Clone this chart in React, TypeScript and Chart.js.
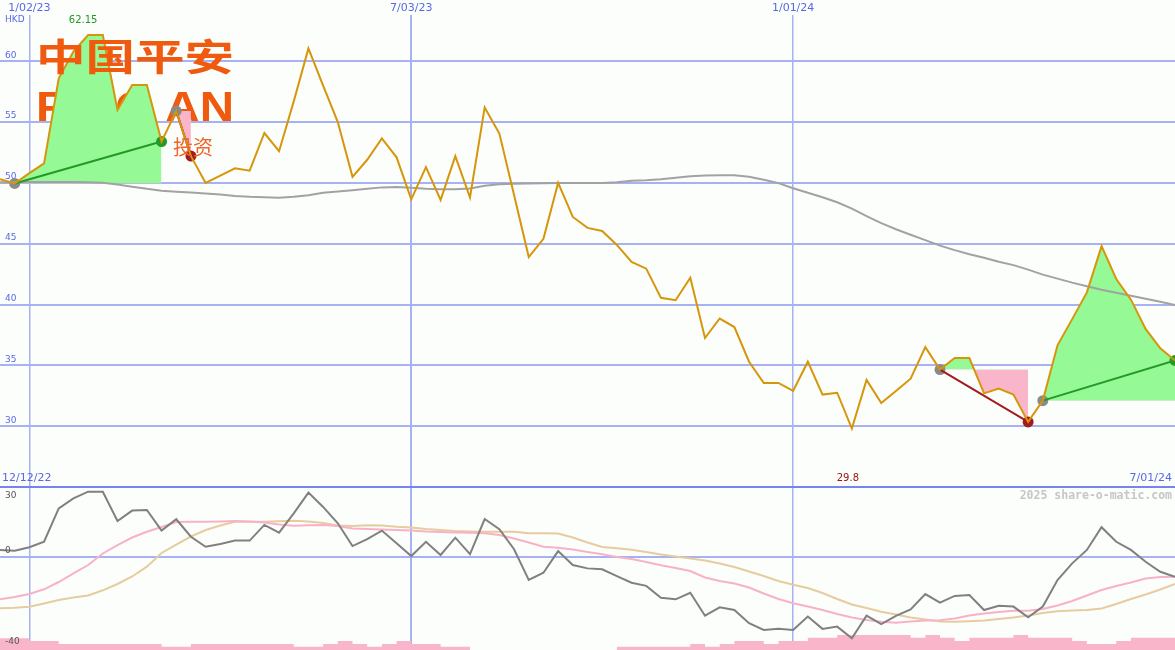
import React, { useEffect, useRef } from 'react';
import Chart from 'chart.js/auto';

// ---------- data ----------
const weeks = [
  '12/19/22', '12/26/22', '1/02/23', '1/09/23', '1/16/23', '1/23/23', '1/30/23', '2/06/23', '2/13/23', '2/20/23',
  '2/27/23', '3/06/23', '3/13/23', '3/20/23', '3/27/23', '4/03/23', '4/10/23', '4/17/23', '4/24/23', '5/01/23',
  '5/08/23', '5/15/23', '5/22/23', '5/29/23', '6/05/23', '6/12/23', '6/19/23', '6/26/23', '7/03/23', '7/10/23',
  '7/17/23', '7/24/23', '7/31/23', '8/07/23', '8/14/23', '8/21/23', '8/28/23', '9/04/23', '9/11/23', '9/18/23',
  '9/25/23', '10/02/23', '10/09/23', '10/16/23', '10/23/23', '10/30/23', '11/06/23', '11/13/23', '11/20/23', '11/27/23',
  '12/04/23', '12/11/23', '12/18/23', '12/25/23', '1/01/24', '1/08/24', '1/15/24', '1/22/24', '1/29/24', '2/05/24',
  '2/12/24', '2/19/24', '2/26/24', '3/04/24', '3/11/24', '3/18/24', '3/25/24', '4/01/24', '4/08/24', '4/15/24',
  '4/22/24', '4/29/24', '5/06/24', '5/13/24', '5/20/24', '5/27/24', '6/03/24', '6/10/24', '6/17/24', '6/24/24',
  '7/01/24',
];
const gridDates = ['1/02/23', '7/03/23', '1/01/24'];
const startLabel = '12/12/22';
const endLabel = '7/01/24';
const currency = 'HKD';
const watermark = '2025 share-o-matic.com';
const lowerTickLabels = [30, 0, -40];

const price = [
  50.3, 49.95, 50.8, 51.6, 58.6, 60.8, 62.15, 62.15, 56.0, 58.05,
  58.05, 53.4, 55.9, 52.2, 50.0, 50.6, 51.2, 51.0, 54.1, 52.6,
  56.7, 61.05, 58.0, 55.0, 50.5, 51.9, 53.65, 52.1, 48.65, 51.3,
  48.6, 52.2, 48.8, 56.2, 54.05, 49.0, 43.9, 45.4, 50.0, 47.2,
  46.3, 46.05, 44.9, 43.5, 42.95, 40.55, 40.35, 42.2, 37.25, 38.85,
  38.15, 35.3, 33.55, 33.55, 32.9, 35.3, 32.6, 32.75, 29.8, 33.8,
  31.9, 32.9, 33.9, 36.5, 34.65, 35.6, 35.6, 32.7, 33.1, 32.6,
  30.35, 32.1, 36.65, 38.8, 41.0, 44.8, 42.1, 40.4, 38.0, 36.4, 35.4,
];
const priceMA = [
  50.06, 50.06, 50.08, 50.08, 50.08, 50.08, 50.06, 50.02, 49.87, 49.69,
  49.51, 49.36, 49.28, 49.21, 49.13, 49.05, 48.93, 48.85, 48.81, 48.77,
  48.85, 48.99, 49.18, 49.29, 49.4, 49.52, 49.63, 49.67, 49.6, 49.52,
  49.48, 49.48, 49.54, 49.77, 49.89, 49.93, 49.95, 49.96, 49.98, 49.98,
  49.99, 50.0, 50.06, 50.18, 50.22, 50.3, 50.43, 50.55, 50.61, 50.63,
  50.63, 50.51, 50.26, 49.98, 49.56, 49.19, 48.82, 48.41, 47.88, 47.26,
  46.69, 46.19, 45.74, 45.29, 44.84, 44.47, 44.14, 43.85, 43.52, 43.24,
  42.87, 42.46, 42.13, 41.8, 41.51, 41.22, 40.96, 40.73, 40.48, 40.22, 39.95,
];
const oscillator = [
  3.1, 2.8, 4.3, 6.7, 21.4, 25.8, 28.7, 28.7, 15.8, 20.4,
  20.7, 11.6, 16.6, 8.9, 4.5, 5.7, 7.2, 7.2, 14.1, 10.7,
  19.2, 28.3, 22.0, 14.8, 4.8, 7.9, 11.6, 6.0, 0.4, 6.7,
  0.9, 8.5, 1.3, 16.7, 12.2, 3.4, -10.1, -6.9, 2.6, -3.5,
  -5.0, -5.4, -8.4, -11.3, -12.7, -17.9, -18.6, -15.7, -25.8, -22.1,
  -23.3, -29.1, -32.1, -31.5, -32.1, -26.2, -31.6, -30.6, -35.7, -25.8,
  -29.5, -25.9, -23.0, -16.3, -20.1, -17.1, -16.7, -23.3, -21.4, -21.8,
  -26.5, -21.8, -10.1, -2.8, 3.1, 13.1, 6.7, 3.1, -2.1, -6.5, -8.7,
];
const oscFast = [
  -18.59, -17.58, -16.26, -14.2, -10.99, -7.16, -3.52, 1.54, 5.27, 8.57,
  11.12, 13.19, 15.38, 15.52, 15.52, 15.6, 15.82, 15.6, 15.16, 14.29,
  13.76, 13.98, 14.07, 13.63, 12.53, 12.31, 12.09, 11.87, 11.65, 11.21,
  10.99, 10.77, 10.64, 10.46, 9.67, 8.13, 6.37, 4.53, 4.04, 3.3,
  2.2, 1.19, 0, -0.88, -2.2, -3.6, -4.84, -6.15, -9.01, -10.55,
  -11.65, -13.41, -16.04, -18.46, -20.35, -21.76, -23.3, -25.05, -26.59, -27.69,
  -28.48, -28.88, -28.35, -27.91, -27.78, -27.03, -25.71, -24.84, -24.18, -23.6,
  -23.6, -22.86, -21.32, -19.34, -16.92, -14.51, -12.75, -11.21, -9.45, -8.79, -8.66,
];
const oscSlow = [
  -22.55, -22.33, -21.85, -20.44, -18.9, -17.8, -16.92, -14.64, -11.87, -8.57,
  -4.26, 1.76, 5.49, 9.01, 11.87, 13.85, 15.52, 15.52, 15.52, 15.74,
  15.96, 15.6, 14.95, 13.85, 13.63, 13.93, 13.85, 13.32, 12.97, 12.31,
  11.87, 11.43, 11.21, 11.12, 11.12, 11.12, 10.46, 10.42, 10.33, 8.57,
  6.37, 4.4, 3.87, 3.16, 2.2, 1.1, 0.22, -0.66, -1.54, -2.86,
  -4.4, -6.37, -8.35, -10.55, -12.22, -13.63, -15.82, -18.46, -20.88, -22.42,
  -24.04, -25.27, -26.59, -27.47, -28.35, -28.48, -28.22, -27.91, -27.25, -26.59,
  -25.71, -24.62, -23.87, -23.52, -23.3, -22.64, -20.66, -18.46, -16.48, -14.29, -11.87,
];
const volume = [
  39, 39, 30, 30, 20, 20, 20, 20, 20, 20,
  20, 11, 11, 20, 20, 20, 20, 20, 20, 20,
  11, 11, 20, 30, 20, 11, 20, 30, 20, 20,
  11, 11, 0, 0, 0, 0, 0, 0, 0, 0,
  0, 0, 11, 11, 11, 11, 11, 20, 11, 20,
  30, 30, 20, 30, 30, 41, 41, 50, 50, 50,
  50, 50, 41, 50, 41, 30, 41, 41, 41, 50,
  41, 41, 41, 30, 20, 20, 30, 41, 41, 41, 41,
];
const tradeEntry = [1, 12, 64, 71];
const tradeExit = [11, 13, 70, 80];

// ---------- styles ----------
const BG = '#fcfefc';
const GRID = '#a6b2f2';
const DIVIDER = '#7684ec';
const AXIS_BLUE = '#5868e4';
const PRICE_C = '#d6960a';
const MA_C = '#a2a2a2';
const WIN_FILL = '#95f995';
const LOSS_FILL = '#f9b6ca';
const WIN_LINE = '#249a26';
const LOSS_LINE = '#a01c1e';
const ENTRY_C = '#8a8a8a';
const OSC_C = '#808080';
const FAST_C = '#f8b2c8';
const SLOW_C = '#e6cc9e';
const VOL_C = '#f9b6ca';
const LOGO_C = '#f05a0e';

const UPPER = { min: 25, max: 63.8 };
const LOWER = { min: -40.88, max: 30.77 };
const VOL_MAX = 543;

const gridColorX = (c: any) => (gridDates.includes(weeks[c.index]) ? GRID : 'rgba(0,0,0,0)');
const gridWidthX = (c: any) => (weeks[c.index] === '7/03/23' ? 2 : 1.5);

function drawStretched(ctx: CanvasRenderingContext2D, text: string, x: number, y: number, width: number) {
  const w = ctx.measureText(text).width;
  ctx.save();
  ctx.translate(x, y);
  ctx.scale(width / w, 1);
  ctx.fillText(text, 0, 0);
  ctx.restore();
}

const upperDecor = {
  id: 'upperDecor',
  beforeDatasetsDraw(chart: any) {
    const ctx: CanvasRenderingContext2D = chart.ctx;
    ctx.save();
    ctx.fillStyle = LOGO_C;
    ctx.textAlign = 'left';
    ctx.textBaseline = 'alphabetic';
    ctx.font = 'bold 43px "Liberation Sans"';
    drawStretched(ctx, 'PING AN', 36, 121, 198);
    ctx.restore();
  },
  afterDatasetsDraw(chart: any) {
    const ctx: CanvasRenderingContext2D = chart.ctx;
    ctx.save();
    ctx.fillStyle = LOGO_C;
    ctx.textAlign = 'left';
    ctx.textBaseline = 'middle';
    ctx.font = 'bold 37px "Noto Sans CJK SC"';
    drawStretched(ctx, '中国平安', 36, 57, 198);
    ctx.fillStyle = '#f0642a';
    ctx.font = '20px "Noto Sans CJK SC"';
    ctx.fillText('投资', 173, 147);
    ctx.restore();
  },
  afterDraw(chart: any) {
    const ctx: CanvasRenderingContext2D = chart.ctx;
    const xs = chart.scales.x;
    ctx.save();
    ctx.textBaseline = 'middle';
    ctx.font = '9px "DejaVu Sans"';
    ctx.fillStyle = AXIS_BLUE;
    ctx.textAlign = 'left';
    ctx.fillText(currency, 5, 20);
    const maxV = Math.max(...price);
    const minV = Math.min(...price);
    const maxI = price.indexOf(maxV);
    const minI = price.indexOf(minV);
    ctx.font = '10px "DejaVu Sans"';
    ctx.textAlign = 'center';
    ctx.fillStyle = '#1f9a1f';
    ctx.fillText(String(maxV), xs.getPixelForValue(maxI) - 5, 20);
    ctx.fillStyle = '#a01414';
    ctx.fillText(String(minV), xs.getPixelForValue(minI) - 4, chart.chartArea.bottom - 9);
    ctx.font = '11px "DejaVu Sans"';
    ctx.fillStyle = AXIS_BLUE;
    ctx.textAlign = 'left';
    ctx.fillText(startLabel, 2, chart.chartArea.bottom - 9);
    ctx.textAlign = 'right';
    ctx.fillText(endLabel, chart.chartArea.right - 3, chart.chartArea.bottom - 9);
    ctx.restore();
  },
};

const lowerDecor = {
  id: 'lowerDecor',
  afterDraw(chart: any) {
    const ctx: CanvasRenderingContext2D = chart.ctx;
    const ys = chart.scales.y;
    const { top, bottom, right } = chart.chartArea;
    ctx.save();
    ctx.textBaseline = 'middle';
    ctx.font = 'bold 11.5px "DejaVu Sans Mono"';
    ctx.fillStyle = '#c6c6c6';
    ctx.textAlign = 'right';
    ctx.fillText(watermark, right - 3, top + 9.5);
    ctx.font = '9px "DejaVu Sans"';
    ctx.fillStyle = '#555555';
    ctx.textAlign = 'left';
    for (const v of lowerTickLabels) {
      const py = Math.min(Math.max(ys.getPixelForValue(v) - 6, top + 9), bottom - 8);
      ctx.fillText(String(v), 5, py);
    }
    ctx.restore();
  },
};

function buildUpper(canvas: HTMLCanvasElement) {
  const n = price.length;
  const datasets: any[] = [];
  datasets.push({ data: price, borderColor: PRICE_C, borderWidth: 2, pointRadius: 0, fill: false, order: 2 });
  datasets.push({ data: priceMA, borderColor: MA_C, borderWidth: 2, pointRadius: 0, fill: false, order: 4 });
  const entryPts = price.map((v, i) => (tradeEntry.includes(i) ? v : null));
  const exitPts = price.map((v, i) => (tradeExit.includes(i) ? v : null));
  datasets.push({ data: entryPts, showLine: false, pointRadius: 5.5, pointBackgroundColor: ENTRY_C, pointBorderWidth: 0, order: 5 });
  datasets.push({
    data: exitPts, showLine: false, pointRadius: 5.5, pointBorderWidth: 0, order: 5,
    pointBackgroundColor: (c: any) => {
      const k = tradeExit.indexOf(c.dataIndex);
      return k >= 0 && price[tradeExit[k]] >= price[tradeEntry[k]] ? WIN_LINE : LOSS_LINE;
    },
  });
  tradeEntry.forEach((e, k) => {
    const x = tradeExit[k];
    const entryPrice = price[e];
    const win = price[x] >= entryPrice;
    const seg = Array.from({ length: n }, (_, i) => (i >= e && i <= x ? price[i] : null));
    const level = Array.from({ length: n }, (_, i) => (i >= e && i <= x ? entryPrice : null));
    const link = Array.from({ length: n }, (_, i) => (i === e || i === x ? price[i] : null));
    const segIdx = datasets.length;
    datasets.push({ data: seg, borderWidth: 0, borderColor: 'rgba(0,0,0,0)', pointRadius: 0, order: 6,
      fill: { target: segIdx + 1, above: WIN_FILL, below: LOSS_FILL } });
    datasets.push({ data: level, borderWidth: 0, borderColor: 'rgba(0,0,0,0)', pointRadius: 0, fill: false, order: 7 });
    datasets.push({ data: link, borderColor: win ? WIN_LINE : LOSS_LINE, borderWidth: 2, pointRadius: 0, spanGaps: true, fill: false, order: 3 });
  });
  return new Chart(canvas, {
    type: 'line',
    data: { labels: weeks, datasets },
    options: {
      responsive: false,
      animation: false,
      events: [],
      layout: { padding: 0, autoPadding: false },
      plugins: { legend: { display: false }, tooltip: { enabled: false } },
      scales: {
        x: {
          position: 'top',
          grid: { color: gridColorX, lineWidth: gridWidthX, drawTicks: false },
          border: { display: false },
          ticks: {
            autoSkip: false, maxRotation: 0, minRotation: 0, padding: 0, color: AXIS_BLUE,
            font: { family: 'DejaVu Sans', size: 11 },
            callback: (_v: any, i: number) => (gridDates.includes(weeks[i]) ? weeks[i] : ''),
          },
          afterFit: (s: any) => { s.height = 15; s.paddingLeft = 0; s.paddingRight = 0; },
        },
        y: {
          min: UPPER.min, max: UPPER.max,
          grid: { color: (c: any) => (c.tick.value <= UPPER.min ? 'rgba(0,0,0,0)' : GRID), lineWidth: 2, drawTicks: false },
          border: { display: false },
          ticks: {
            stepSize: 5, includeBounds: false, mirror: true, padding: 5, labelOffset: -6, color: AXIS_BLUE,
            font: { family: 'DejaVu Sans', size: 9 },
            callback: (v: any) => (v >= 30 ? String(v) : ''),
          },
          afterFit: (s: any) => { s.width = 0; s.paddingTop = 0; s.paddingBottom = 0; },
        },
      },
    },
    plugins: [upperDecor],
  } as any);
}

function buildLower(canvas: HTMLCanvasElement) {
  return new Chart(canvas, {
    type: 'line',
    data: {
      labels: weeks,
      datasets: [
        { data: oscillator, borderColor: OSC_C, borderWidth: 2, pointRadius: 0, fill: false, order: 1 },
        { data: oscFast, borderColor: FAST_C, borderWidth: 2, pointRadius: 0, fill: false, order: 2 },
        { data: oscSlow, borderColor: SLOW_C, borderWidth: 2, pointRadius: 0, fill: false, order: 3 },
        { data: volume, yAxisID: 'yv', stepped: true, borderWidth: 0, borderColor: 'rgba(0,0,0,0)', backgroundColor: VOL_C, pointRadius: 0, fill: 'origin', order: 4 },
      ],
    },
    options: {
      responsive: false,
      animation: false,
      events: [],
      layout: { padding: { top: 2 }, autoPadding: false },
      plugins: { legend: { display: false }, tooltip: { enabled: false } },
      scales: {
        x: {
          grid: { color: gridColorX, lineWidth: gridWidthX, drawTicks: false },
          border: { display: false },
          ticks: { display: false },
          afterFit: (s: any) => { s.height = 0; s.paddingLeft = 0; s.paddingRight = 0; },
        },
        y: {
          min: LOWER.min, max: LOWER.max,
          grid: { color: (c: any) => (c.tick.value === 0 ? GRID : DIVIDER), lineWidth: 2, drawTicks: false },
          border: { display: false },
          ticks: { display: false },
          afterBuildTicks: (s: any) => { s.ticks = [{ value: LOWER.max }, { value: 0 }]; },
          afterFit: (s: any) => { s.width = 0; },
        },
        yv: {
          display: false, min: 0, max: VOL_MAX,
        },
      },
    },
    plugins: [lowerDecor],
  } as any);
}

export default function App() {
  const upperRef = useRef<HTMLCanvasElement>(null);
  const lowerRef = useRef<HTMLCanvasElement>(null);
  useEffect(() => {
    document.body.style.margin = '0';
    const a = buildUpper(upperRef.current!);
    const b = buildLower(lowerRef.current!);
    return () => { a.destroy(); b.destroy(); };
  }, []);
  return (
    <div style={{ position: 'fixed', left: 0, top: 0, width: 1175, height: 650, background: BG, overflow: 'hidden' }}>
      <canvas ref={upperRef} width={1175} height={487} style={{ position: 'absolute', left: 0, top: 0, width: 1175, height: 487 }} />
      <canvas ref={lowerRef} width={1175} height={165} style={{ position: 'absolute', left: 0, top: 485, width: 1175, height: 165 }} />
    </div>
  );
}
